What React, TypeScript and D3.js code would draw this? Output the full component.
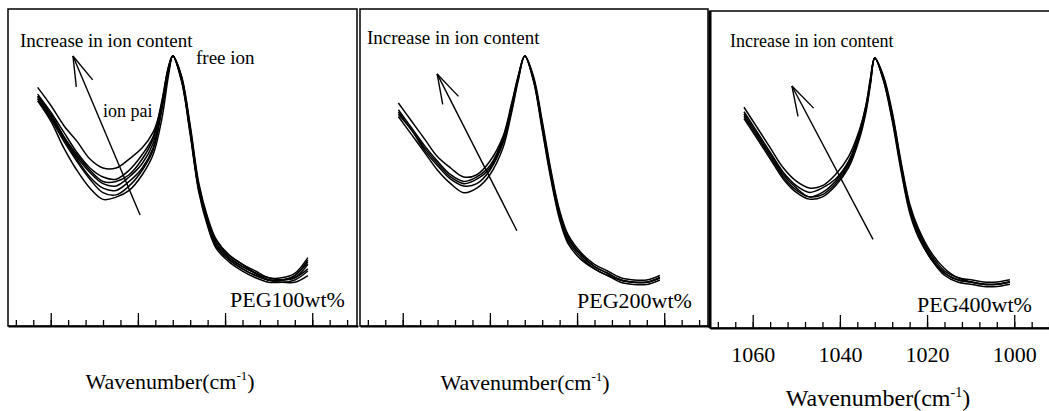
import React, { useEffect, useRef } from "react";
import * as d3 from "d3";

// FTIR spectra of the ClO4- band, normalised absorbance (peak = 1)
// wavenumber grids (cm-1), one per panel
const wn100 = [1063, 1060, 1057, 1054, 1051, 1048, 1045, 1042, 1039, 1036.5, 1034.5, 1033, 1032, 1030, 1028, 1026, 1024, 1022, 1019, 1016, 1013, 1010, 1007, 1004, 1001];
const wn200 = [1061, 1058, 1055, 1052, 1049, 1046, 1043, 1040, 1037, 1035, 1033.5, 1032, 1030, 1028, 1026, 1024, 1022, 1019, 1016, 1013, 1010, 1007, 1004, 1001];
const wn400 = [1062, 1059, 1056, 1053, 1050, 1047, 1044, 1041, 1038, 1035.5, 1034, 1033, 1032, 1030, 1028, 1026, 1024, 1022, 1019, 1016, 1013, 1010, 1007, 1004, 1001];

// PEG100 – seven salt contents
const peg100 = [
  [0.86, 0.78, 0.69, 0.62, 0.54, 0.50, 0.50, 0.54, 0.59, 0.66, 0.78, 0.93, 1.00, 0.91, 0.69, 0.43, 0.28, 0.18, 0.11, 0.07, 0.04, 0.01, 0.01, 0.03, 0.10],
  [0.83, 0.75, 0.66, 0.57, 0.50, 0.46, 0.45, 0.49, 0.56, 0.64, 0.80, 0.95, 1.00, 0.91, 0.68, 0.42, 0.27, 0.17, 0.11, 0.07, 0.03, 0.01, 0.00, 0.02, 0.09],
  [0.82, 0.74, 0.64, 0.56, 0.49, 0.44, 0.44, 0.47, 0.54, 0.63, 0.79, 0.95, 1.00, 0.90, 0.67, 0.41, 0.26, 0.16, 0.10, 0.06, 0.03, 0.00, 0.00, 0.02, 0.08],
  [0.82, 0.74, 0.64, 0.55, 0.48, 0.43, 0.42, 0.46, 0.52, 0.61, 0.78, 0.94, 1.00, 0.90, 0.67, 0.41, 0.26, 0.16, 0.10, 0.06, 0.03, 0.00, 0.00, 0.01, 0.07],
  [0.81, 0.73, 0.63, 0.54, 0.46, 0.41, 0.40, 0.44, 0.50, 0.59, 0.77, 0.93, 1.00, 0.90, 0.66, 0.40, 0.25, 0.15, 0.09, 0.05, 0.02, 0.00, 0.00, 0.01, 0.05],
  [0.81, 0.72, 0.62, 0.53, 0.45, 0.39, 0.38, 0.42, 0.49, 0.58, 0.76, 0.93, 1.00, 0.89, 0.66, 0.40, 0.25, 0.15, 0.09, 0.05, 0.02, 0.00, -0.01, 0.00, 0.04],
  [0.80, 0.71, 0.59, 0.49, 0.41, 0.36, 0.37, 0.40, 0.47, 0.56, 0.72, 0.91, 1.00, 0.89, 0.65, 0.39, 0.24, 0.14, 0.08, 0.04, 0.01, -0.01, -0.01, -0.01, 0.02],
];

// PEG200 – five salt contents
const peg200 = [
  [0.79, 0.71, 0.63, 0.55, 0.50, 0.46, 0.47, 0.53, 0.64, 0.79, 0.91, 1.00, 0.91, 0.71, 0.49, 0.31, 0.20, 0.12, 0.07, 0.04, 0.01, 0.00, 0.00, 0.02],
  [0.76, 0.68, 0.60, 0.53, 0.47, 0.44, 0.46, 0.51, 0.63, 0.78, 0.91, 1.00, 0.90, 0.70, 0.48, 0.30, 0.19, 0.11, 0.06, 0.03, 0.00, -0.01, -0.01, 0.01],
  [0.75, 0.67, 0.59, 0.52, 0.46, 0.43, 0.45, 0.50, 0.62, 0.77, 0.90, 1.00, 0.90, 0.69, 0.47, 0.29, 0.18, 0.11, 0.06, 0.03, 0.00, -0.01, -0.01, 0.01],
  [0.74, 0.67, 0.58, 0.51, 0.45, 0.42, 0.43, 0.49, 0.61, 0.76, 0.90, 1.00, 0.89, 0.68, 0.46, 0.28, 0.17, 0.10, 0.05, 0.02, 0.00, -0.01, -0.01, 0.01],
  [0.73, 0.65, 0.57, 0.49, 0.43, 0.39, 0.41, 0.47, 0.59, 0.75, 0.89, 1.00, 0.89, 0.67, 0.45, 0.27, 0.16, 0.09, 0.05, 0.02, -0.01, -0.02, -0.02, 0.00],
];

// PEG400 – five salt contents
const peg400 = [
  [0.78, 0.69, 0.60, 0.51, 0.45, 0.42, 0.43, 0.48, 0.56, 0.68, 0.79, 0.91, 1.00, 0.92, 0.76, 0.54, 0.35, 0.24, 0.13, 0.06, 0.02, 0.01, 0.00, 0.00, 0.01],
  [0.76, 0.67, 0.58, 0.49, 0.43, 0.40, 0.42, 0.46, 0.54, 0.67, 0.79, 0.90, 1.00, 0.91, 0.75, 0.53, 0.34, 0.23, 0.12, 0.05, 0.02, 0.00, -0.01, -0.01, 0.00],
  [0.75, 0.66, 0.57, 0.48, 0.42, 0.38, 0.40, 0.45, 0.53, 0.66, 0.78, 0.89, 1.00, 0.91, 0.74, 0.52, 0.33, 0.22, 0.11, 0.04, 0.01, 0.00, -0.01, -0.01, 0.00],
  [0.74, 0.65, 0.56, 0.47, 0.41, 0.38, 0.39, 0.44, 0.52, 0.65, 0.77, 0.89, 1.00, 0.90, 0.73, 0.51, 0.32, 0.21, 0.10, 0.04, 0.01, 0.00, -0.01, -0.01, 0.00],
  [0.73, 0.64, 0.55, 0.46, 0.40, 0.37, 0.38, 0.43, 0.51, 0.64, 0.76, 0.88, 1.00, 0.90, 0.72, 0.50, 0.31, 0.20, 0.10, 0.03, 0.00, -0.01, -0.02, -0.02, -0.01],
];

const majorTicks = [1060, 1040, 1020, 1000];
const minorTicks = d3.range(1068, 990, -4);
const panelLabels = ["PEG100wt%", "PEG200wt%", "PEG400wt%"];

// arrows "increase in ion content": [tail, tip] as [wavenumber, absorbance]
const arrows = [
  [[1039.5, 0.29], [1054.9, 1.0]],
  [[1033.8, 0.22], [1052.1, 0.92]],
  [[1032.4, 0.19], [1051.0, 0.875]],
];

const FONT = "'Liberation Serif', 'Times New Roman', Times, serif";

export default function App() {
  const svgRef = useRef<SVGSVGElement>(null);

  useEffect(() => {
    const svg = d3.select(svgRef.current);
    svg.selectAll("*").remove();

    const innerH = 317;
    const x = d3.scaleLinear().domain([1069.8, 989.5]).range([0, 350]);
    const y = d3.scaleLinear().domain([0, 1]).range([271, 47]);

    const panels = [
      { left: 8, top: 9, width: 349, grid: wn100, series: peg100, labels: false,
        inc: [12, 38, 19], peg: [222, 298], title: [162, 380, 22] },
      { left: 360, top: 9, width: 348, grid: wn200, series: peg200, labels: false,
        inc: [7, 35, 19], peg: [217, 299], title: [165, 381, 22] },
      { left: 710, top: 11, width: 350, grid: wn400, series: peg400, labels: true,
        inc: [20, 36, 18], peg: [207, 301], title: [168, 395, 24] },
    ];

    panels.forEach((p, pi) => {
      const g = svg.append("g").attr("transform", `translate(${p.left},${p.top})`);

      // frame
      g.append("rect")
        .attr("x", 0).attr("y", 0)
        .attr("width", p.width).attr("height", innerH)
        .attr("fill", "none").attr("stroke", "#000").attr("stroke-width", 1.5);
      if (pi === 2) {
        g.append("line").attr("x1", 0).attr("x2", 0).attr("y1", 0).attr("y2", innerH)
          .attr("stroke", "#000").attr("stroke-width", 3);
      }

      // ticks pointing inward
      const minor = d3.axisBottom(x).tickValues(minorTicks).tickSizeInner(-6).tickSizeOuter(0).tickFormat(() => "");
      const major = d3.axisBottom(x).tickValues(majorTicks).tickSizeInner(-13).tickSizeOuter(0)
        .tickFormat(p.labels ? d3.format("d") : () => "");

      g.append("g").attr("transform", `translate(0,${innerH})`).call(minor)
        .call((a) => a.select(".domain").remove())
        .selectAll("line").attr("stroke", "#000").attr("stroke-width", 1.3);
      const ax = g.append("g").attr("transform", `translate(0,${innerH})`).call(major);
      ax.select(".domain").attr("stroke", "#000").attr("stroke-width", 1.8);
      ax.selectAll("line").attr("stroke", "#000").attr("stroke-width", 1.3);
      ax.selectAll("text")
        .attr("y", 34).attr("dy", null)
        .attr("fill", "#000")
        .style("font-family", FONT).style("font-size", "22px");

      // spectra
      const line = d3.line<[number, number]>()
        .x((d) => x(d[0]))
        .y((d) => y(d[1]))
        .curve(d3.curveCatmullRom.alpha(0.5));

      g.append("g").selectAll("path")
        .data(p.series)
        .join("path")
        .attr("d", (s) => line(d3.zip(p.grid, s) as [number, number][]))
        .attr("fill", "none")
        .attr("stroke", "#000")
        .attr("stroke-width", 1.5)
        .attr("stroke-linejoin", "round");

      // arrow
      const [tail, tip] = arrows[pi];
      const tx = x(tail[0]), ty = y(tail[1]), hx = x(tip[0]), hy = y(tip[1]);
      g.append("line").attr("x1", tx).attr("y1", ty).attr("x2", hx).attr("y2", hy)
        .attr("stroke", "#000").attr("stroke-width", 1.4);
      const ang = Math.atan2(ty - hy, tx - hx);
      [-0.29, 0.29].forEach((da) => {
        g.append("line")
          .attr("x1", hx).attr("y1", hy)
          .attr("x2", hx + 31 * Math.cos(ang + da))
          .attr("y2", hy + 31 * Math.sin(ang + da))
          .attr("stroke", "#000").attr("stroke-width", 1.4);
      });

      const txt = (tx0: number, ty0: number, size: number, s: string) =>
        g.append("text").attr("x", tx0).attr("y", ty0)
          .style("font-family", FONT).style("font-size", `${size}px`)
          .attr("fill", "#000").text(s);

      txt(p.inc[0], p.inc[1], p.inc[2], "Increase in ion content");
      if (pi === 0) {
        txt(188, 55, 19, "free ion");
        txt(95, 108, 18, "ion pai");
      }
      txt(p.peg[0], p.peg[1], 22, panelLabels[pi]);

      // axis title
      const t = g.append("text")
        .attr("x", p.title[0]).attr("y", p.title[1])
        .attr("text-anchor", "middle")
        .style("font-family", FONT).style("font-size", `${p.title[2]}px`)
        .attr("fill", "#000");
      t.append("tspan").text("Wavenumber(cm");
      t.append("tspan").attr("dy", -9).style("font-size", `${Math.round(p.title[2] * 0.6)}px`).text("-1");
      t.append("tspan").attr("dy", 9).text(")");
    });
  }, []);

  return (
    <svg
      ref={svgRef}
      width={1049}
      height={411}
      style={{ position: "absolute", left: 0, top: 0, background: "#fff" }}
    />
  );
}
